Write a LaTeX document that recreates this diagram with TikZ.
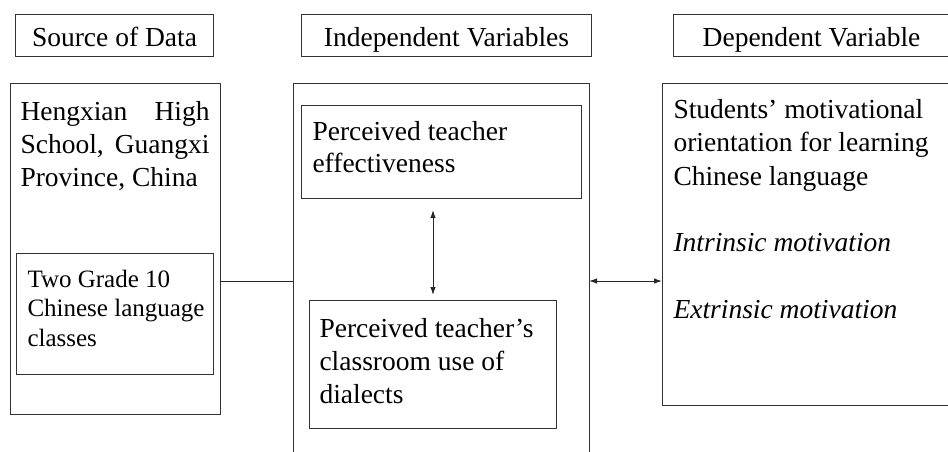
\documentclass[tikz,border=0pt]{standalone}
\usepackage{fontspec}
\setmainfont{Liberation Serif}
\usetikzlibrary{arrows.meta,calc}
\begin{document}
\begin{tikzpicture}[x=1pt,y=-1pt,line width=1pt,
  frame/.style={draw=black!80,rectangle,inner sep=0pt,anchor=north west},
  hollow/.style={rectangle,inner sep=0pt,anchor=north west},
  hdr/.style={frame,font=\fontsize{27.5}{33}\selectfont,text height=22pt,text depth=0pt},
  txt/.style={font=\fontsize{27.5}{33}\selectfont,inner sep=0pt,anchor=base west,align=left},
  smalltxt/.style={font=\fontsize{25}{29.5}\selectfont,inner sep=0pt,anchor=base west,align=left},
  conn/.style={draw=black!85,line width=1pt},
  both/.style={{Latex[length=8pt,width=5.5pt]}-{Latex[length=8pt,width=5.5pt]}}]
\useasboundingbox (0,0) rectangle (948,451);
% headers
\node[hdr,minimum width=198pt,minimum height=42pt] (h1) at (15,14) {Source of Data};
\node[hdr,minimum width=290pt,minimum height=42pt] (h2) at (301,14) {Independent Variables};
\node[hollow,minimum width=276pt,minimum height=41pt,font=\fontsize{27.5}{33}\selectfont,text height=22pt,text depth=0pt] (h3) at (673,14.5) {Dependent Variable};
\draw[draw=black!80] (h3.north east) -- (h3.north west) -- (h3.south west) -- (h3.south east);
% source of data
\node[frame,minimum width=210pt,minimum height=331pt] (src) at (10,83) {};
\node[txt] (srctext) at (20,186) {\makebox[189pt][s]{Hengxian High}\\\makebox[189pt][s]{School, Guangxi}\\Province, China};
\node[frame,minimum width=197pt,minimum height=121pt] (tg) at (16,253) {};
\node[smalltxt] (tgtext) at (27,346) {Two Grade 10\\Chinese language\\classes};
% independent variables
\node[hollow,minimum width=295pt,minimum height=368pt] (iv) at (293,83) {};
\draw[draw=black!80] (iv.south west) -- (iv.north west) -- (iv.north east) -- (iv.south east);
\node[frame,minimum width=280pt,minimum height=93pt] (pte) at (301,105) {};
\node[txt,font=\fontsize{27.5}{32}\selectfont] (ptetext) at (312,172) {Perceived teacher\\effectiveness};
\node[frame,minimum width=247pt,minimum height=128pt] (ptd) at (309,300) {};
\node[txt] (ptdtext) at (319,403) {Perceived teacher’s\\classroom use of\\dialects};
% dependent variable
\node[hollow,minimum width=286pt,minimum height=321pt] (dv) at (662,83) {};
\draw[draw=black!80] (dv.north east) -- (dv.north west) -- (dv.south west) -- (dv.south east);
\node[txt,font=\fontsize{27.5}{33.3}\selectfont] (dvtext) at (673,318.3) {Students’ motivational\\orientation for learning\\Chinese language\\[33.3pt]\textit{Intrinsic motivation}\\[33.3pt]\textit{Extrinsic motivation}};
% connectors
\coordinate (ly) at (0,281);
\draw[conn] (src.east |- ly) -- (iv.west |- ly);
\draw[conn,both] (iv.east |- ly) -- (dv.west |- ly);
\draw[conn,both,shorten <=11pt,shorten >=5pt] (ptd.north |- pte.south) -- (ptd.north);
\end{tikzpicture}
\end{document}
